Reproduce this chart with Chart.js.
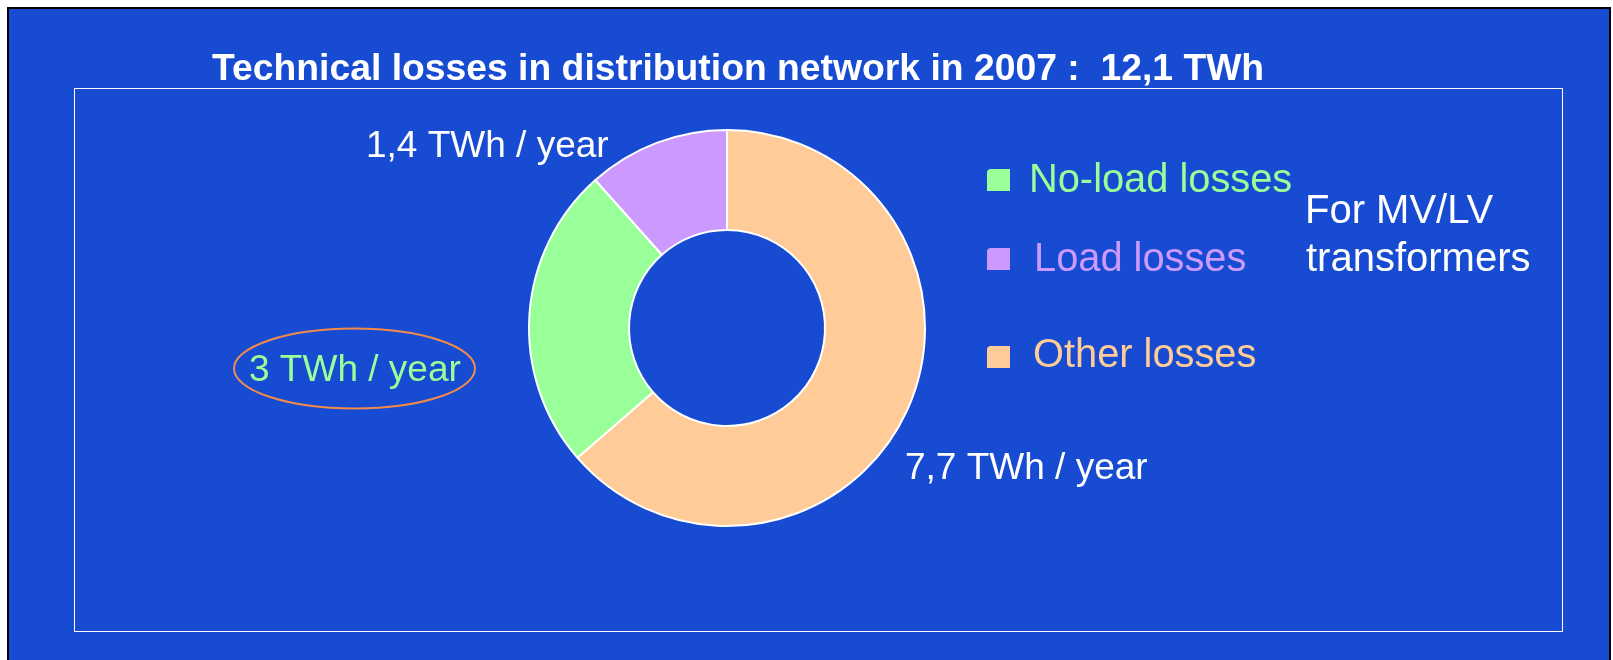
<!DOCTYPE html>
<html>
<head>
<meta charset="utf-8">
<title>Technical losses in distribution network</title>
<script src="https://cdn.jsdelivr.net/npm/chart.js@4/dist/chart.umd.min.js"></script>
<style>
  html, body { margin: 0; padding: 0; background: #fff; overflow: hidden; }
  canvas { display: block; }
</style>
</head>
<body>
<canvas id="losses" width="1613" height="660"></canvas>
<script>
// slices, in drawing order (clockwise from 12 o'clock)
const categories = ['Other losses', 'No-load losses', 'Load losses'];
const values = [7.7, 3, 1.4];
const colors = ['#FFCC99', '#99FF99', '#CC99FF'];
const valueColors = ['#FFFFFF', '#99FF99', '#FFFFFF'];
const legendOrder = [1, 2, 0];
const unit = 'TWh / year';

// where things sit on the slide
const BLUE = '#174CD2';
const labelPos = [[905, 479], [249, 381], [366, 157]];
const legendRows = [
  { box: [987, 169], text: [1029, 192] },
  { box: [987, 248], text: [1034, 271] },
  { box: [987, 346], text: [1033, 367] },
];

const fmt = (v) => String(Math.round(v * 10) / 10).replace('.', ',');
const total = values.reduce((a, b) => a + b, 0);

const slide = {
  id: 'slide',
  beforeDraw(chart) {
    const { ctx, width, height } = chart;
    ctx.save();
    ctx.fillStyle = '#fff';
    ctx.fillRect(0, 0, width, height);
    ctx.fillStyle = '#000';
    ctx.fillRect(7, 7, 1604, height);
    ctx.fillStyle = BLUE;
    ctx.fillRect(9, 9, 1600, height);

    ctx.strokeStyle = '#fff';
    ctx.lineWidth = 1;
    ctx.strokeRect(74.5, 88.5, 1488, 543);

    ctx.fillStyle = '#fff';
    ctx.font = 'bold 37.3px "Liberation Sans", Arial, sans-serif';
    ctx.textBaseline = 'alphabetic';
    ctx.fillText(
      `Technical losses in distribution network in 2007 :  ${fmt(total)} TWh`,
      212,
      80
    );
    ctx.restore();
  },
  afterDraw(chart) {
    const { ctx } = chart;
    ctx.save();
    ctx.textBaseline = 'alphabetic';

    // value labels
    ctx.font = '37px "Liberation Sans", Arial, sans-serif';
    values.forEach((v, i) => {
      ctx.fillStyle = valueColors[i];
      ctx.fillText(`${fmt(v)} ${unit}`, labelPos[i][0], labelPos[i][1]);
    });

    // ring round the no-load figure
    ctx.strokeStyle = '#F28A4A';
    ctx.lineWidth = 2;
    ctx.beginPath();
    ctx.ellipse(354.5, 368.5, 120.5, 40, 0, 0, Math.PI * 2);
    ctx.stroke();

    // legend
    ctx.font = '39.8px "Liberation Sans", Arial, sans-serif';
    legendOrder.forEach((idx, row) => {
      const r = legendRows[row];
      ctx.fillStyle = colors[idx];
      ctx.beginPath();
      ctx.roundRect(r.box[0], r.box[1], 23, 22, [4, 0, 0, 0]);
      ctx.fill();
      ctx.fillText(categories[idx], r.text[0], r.text[1]);
    });

    ctx.fillStyle = '#fff';
    ctx.font = '40px "Liberation Sans", Arial, sans-serif';
    ctx.fillText('For MV/LV', 1305, 223);
    ctx.fillText('transformers', 1306, 271);
    ctx.restore();
  },
};

// eslint-disable-next-line no-new
new Chart(document.getElementById('losses'), {
  type: 'doughnut',
  data: {
    labels: categories,
    datasets: [
      {
        data: values,
        backgroundColor: colors,
        borderColor: '#FFFFFF',
        borderWidth: 2,
      },
    ],
  },
  options: {
    responsive: false,
    animation: false,
    devicePixelRatio: 1,
    radius: 198,
    cutout: '49.5%',
    rotation: 0,
    layout: {
      padding: { left: 477, right: 636, top: 78, bottom: 82 },
    },
    plugins: {
      legend: { display: false },
      title: { display: false },
      tooltip: { enabled: false },
    },
  },
  plugins: [slide],
});
</script>
</body>
</html>
